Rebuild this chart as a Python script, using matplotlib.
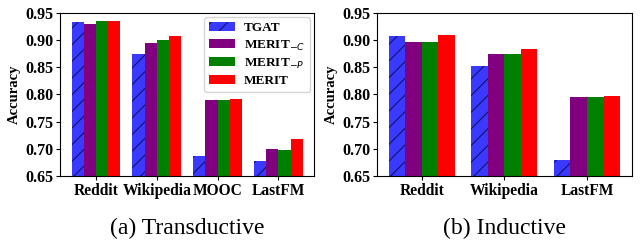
import numpy as np
import matplotlib
matplotlib.use("Agg")
import matplotlib.pyplot as plt

plt.rcParams['font.family'] = ['Liberation Serif', 'DejaVu Serif']
plt.rcParams['mathtext.fontset'] = 'dejavusans'
plt.rcParams['hatch.linewidth'] = 0.8

methods = ['TGAT', 'MERIT$_{-C}$', 'MERIT$_{-P}$', 'MERIT']
colors = ['#3a3aff', '#800080', '#008000', '#ff0000']

# transductive setting
trans_datasets = ['Reddit', 'Wikipedia', 'MOOC', 'LastFM']
trans_tgat = [0.934, 0.875, 0.687, 0.678]
trans_merit_c = [0.930, 0.895, 0.789, 0.700]
trans_merit_p = [0.936, 0.901, 0.789, 0.698]
trans_merit = [0.936, 0.907, 0.791, 0.718]

# inductive setting
ind_datasets = ['Reddit', 'Wikipedia', 'LastFM']
ind_tgat = [0.907, 0.853, 0.679]
ind_merit_c = [0.897, 0.875, 0.795]
ind_merit_p = [0.897, 0.875, 0.795]
ind_merit = [0.909, 0.884, 0.797]

yticks = [0.65, 0.70, 0.75, 0.80, 0.85, 0.90, 0.95]


def draw(ax, datasets, series, legend=False):
    x = np.arange(len(datasets))
    w = 0.2
    for i, vals in enumerate(series):
        off = (i - 1.5) * w
        if i == 0:
            ax.bar(x + off, vals, w, color=colors[i], hatch='//',
                   edgecolor='#10106a', linewidth=0, label=methods[i])
        else:
            ax.bar(x + off, vals, w, color=colors[i], linewidth=0,
                   label=methods[i])
    ax.set_ylim(0.65, 0.95)
    ax.set_yticks(yticks)
    ax.set_yticklabels(['%.2f' % v for v in yticks], fontsize=11.5, fontweight='bold')
    ax.set_xticks(x)
    ax.set_xticklabels(datasets, fontsize=11.2, fontweight='bold')
    ax.set_ylabel('Accuracy', fontsize=10.5, fontweight='bold', labelpad=3)
    ax.tick_params(axis='both', pad=2, length=3)
    if legend:
        ax.legend(loc='upper right', prop={'size': 9.5, 'weight': 'bold'},
                  handlelength=1.9, handletextpad=0.7, borderaxespad=0.3,
                  borderpad=0.4, labelspacing=0.3)


fig = plt.figure(figsize=(6.4, 2.45), dpi=100)
ax1 = fig.add_axes([0.094, 0.282, 0.397, 0.665])
ax2 = fig.add_axes([0.589, 0.282, 0.398, 0.665])

draw(ax1, trans_datasets, [trans_tgat, trans_merit_c, trans_merit_p, trans_merit], legend=True)
draw(ax2, ind_datasets, [ind_tgat, ind_merit_c, ind_merit_p, ind_merit])

fig.text(0.2925, 0.068, '(a) Transductive', ha='center', va='center',
         fontsize=17)
fig.text(0.788, 0.068, '(b) Inductive', ha='center', va='center',
         fontsize=17)

fig.savefig('out.png', dpi=100)
